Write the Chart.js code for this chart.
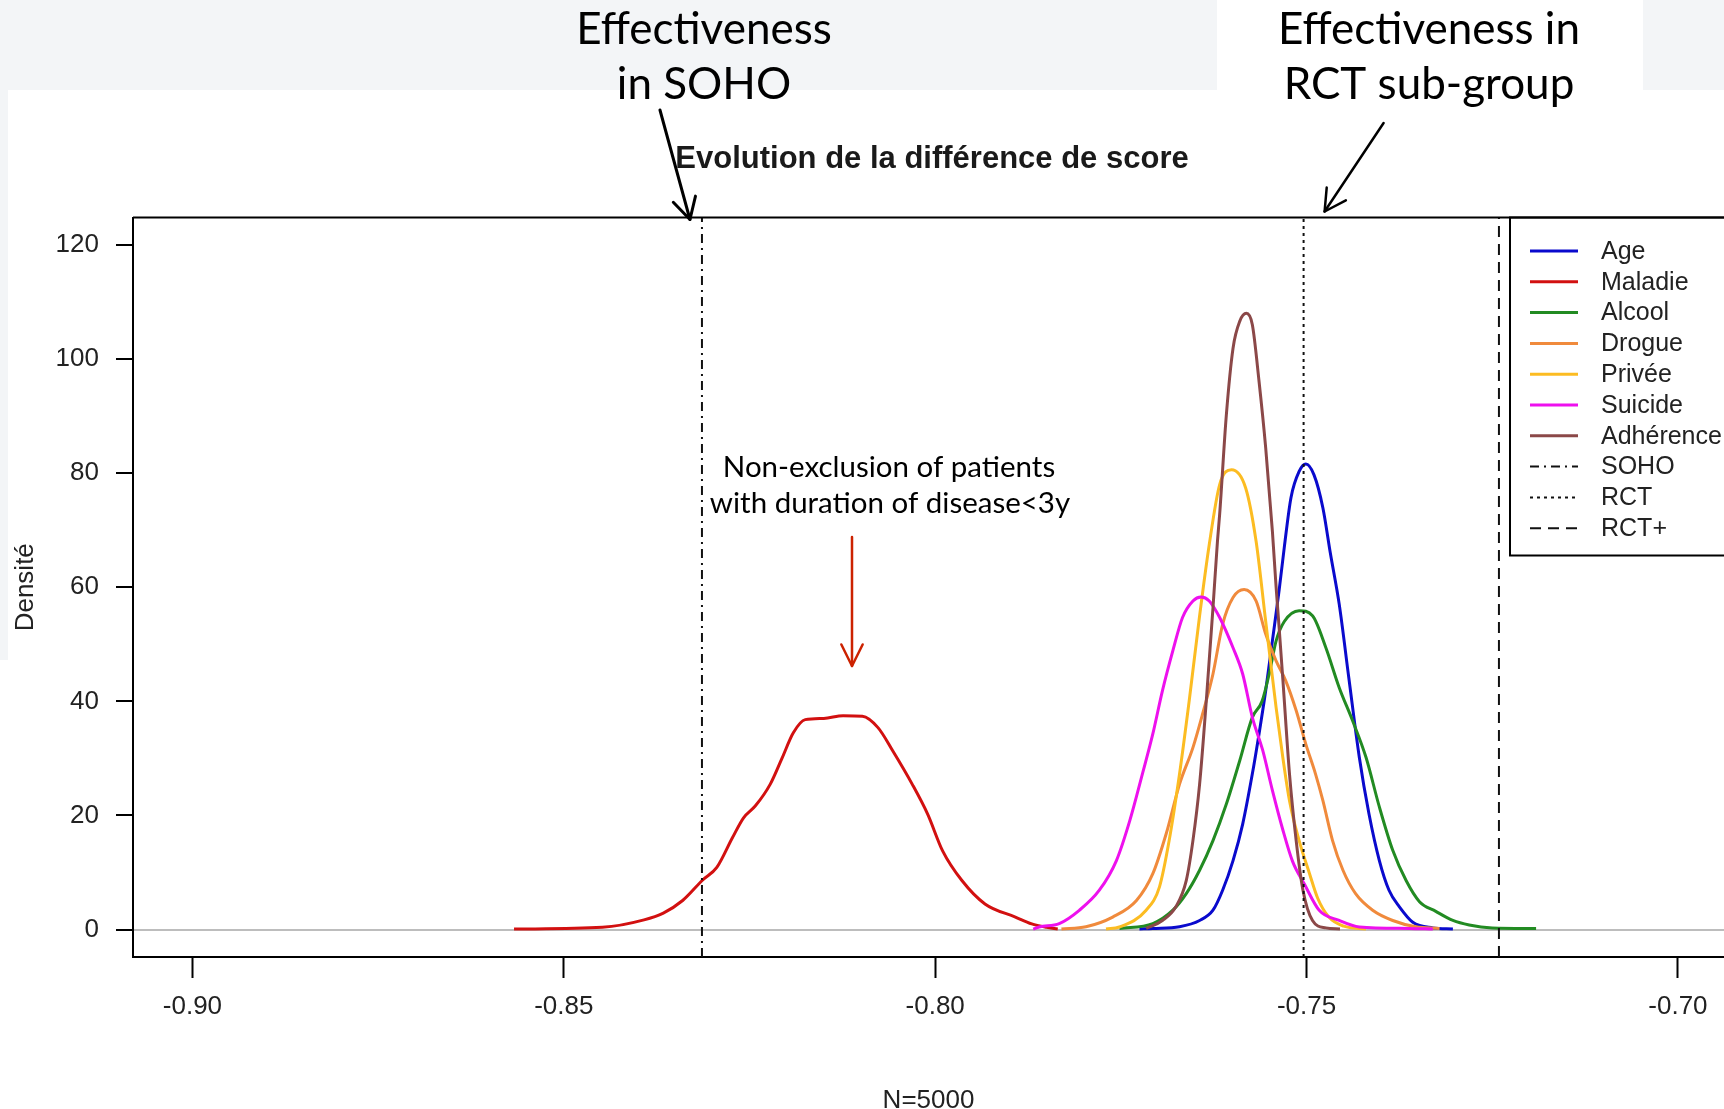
<!DOCTYPE html>
<html>
<head>
<meta charset="utf-8">
<title>Evolution de la différence de score</title>
<script src="https://cdn.jsdelivr.net/npm/chart.js@4.4.1/dist/chart.umd.min.js"></script>
<style>
  html, body { margin: 0; padding: 0; background: #fff; overflow: hidden; }
  canvas { display: block; }
</style>
</head>
<body>
<canvas id="densityChart" width="1724" height="1109"></canvas>
<script>
// density curves (x = score difference, y = density)
const ageX = [-0.7725, -0.7707, -0.7671, -0.7644, -0.7626, -0.7613, -0.7599, -0.7586, -0.7573, -0.7564, -0.7555, -0.7546, -0.7537, -0.7530, -0.7521, -0.7510, -0.7501, -0.7490, -0.7478, -0.7468, -0.7456, -0.7443, -0.7429, -0.7416, -0.7402, -0.7389, -0.7375, -0.7357, -0.7330, -0.7303];
const ageY = [0.1, 0.2, 0.5, 1.6, 3.4, 6.9, 12.1, 18.5, 27.3, 34.3, 41.9, 50.6, 59.4, 67, 75.7, 80.3, 81.6, 79.7, 73.9, 66, 57, 44, 30.2, 20.3, 12.1, 6.9, 4.0, 1.3, 0.3, 0.1];

const maladieX = [-0.8567, -0.8448, -0.8392, -0.8366, -0.8340, -0.8313, -0.8294, -0.8273, -0.8258, -0.8242, -0.8222, -0.8206, -0.8191, -0.8175, -0.8150, -0.8124, -0.8098, -0.8077, -0.8057, -0.8031, -0.8010, -0.7990, -0.7964, -0.7933, -0.7892, -0.7870, -0.7850, -0.7835];
const maladieY = [0.1, 0.4, 1.7, 2.9, 5.1, 8.7, 10.9, 16.1, 19.6, 21.7, 25.5, 30.1, 34.5, 36.8, 37.0, 37.5, 37.4, 35.4, 31.3, 25.5, 20.2, 13.8, 8.6, 4.5, 2.2, 1.0, 0.4, 0.1];

const alcoolX = [-0.7752, -0.7707, -0.7680, -0.7662, -0.7644, -0.7626, -0.7608, -0.7590, -0.7573, -0.7560, -0.7550, -0.7541, -0.7530, -0.7510, -0.7492, -0.7474, -0.7456, -0.7438, -0.7420, -0.7402, -0.7384, -0.7366, -0.7348, -0.7326, -0.7303, -0.7281, -0.7250, -0.7191];
const alcoolY = [0.2, 1.05, 3.4, 6.3, 10.4, 15.6, 22.0, 29.6, 37.2, 40, 45, 50.6, 54, 55.9, 55, 49.4, 42.4, 36.6, 30.2, 21.5, 13.9, 8.6, 4.9, 3.2, 1.6, 0.8, 0.3, 0.2];

const drogueX = [-0.7830, -0.7797, -0.7761, -0.7729, -0.7707, -0.7689, -0.7671, -0.7653, -0.7640, -0.7626, -0.7613, -0.7599, -0.7584, -0.7568, -0.7555, -0.7541, -0.7528, -0.7514, -0.7501, -0.7488, -0.7478, -0.7465, -0.7451, -0.7434, -0.7411, -0.7384, -0.7353, -0.7321];
const drogueY = [0.1, 0.5, 2.2, 5.1, 9.8, 16.8, 25.5, 31.9, 37.8, 44.8, 53.5, 58.2, 59.6, 57.6, 51.8, 47.1, 43.6, 38.4, 32.5, 27.3, 22.6, 15.6, 10.4, 6.3, 3.4, 1.6, 0.5, 0.2];

const priveeX = [-0.7770, -0.7752, -0.7716, -0.7698, -0.7685, -0.7671, -0.7658, -0.7644, -0.7631, -0.7617, -0.7601, -0.7582, -0.7568, -0.7555, -0.7541, -0.7532, -0.7523, -0.7510, -0.7496, -0.7485, -0.7470, -0.7450, -0.7420];
const priveeY = [0.1, 0.46, 3.4, 7.5, 15.6, 27.3, 40.1, 55, 67.5, 78.0, 80.6, 77.4, 68.1, 54, 38.9, 30.2, 22.6, 15.6, 9.8, 5.5, 2.2, 0.6, 0.1];

const suicideX = [-0.7868, -0.7860, -0.7833, -0.7806, -0.7779, -0.7756, -0.7738, -0.7721, -0.7707, -0.7694, -0.7680, -0.7667, -0.7653, -0.7642, -0.7631, -0.7617, -0.7599, -0.7586, -0.7573, -0.7559, -0.7546, -0.7532, -0.7519, -0.7503, -0.7483, -0.7456, -0.7429, -0.7362, -0.7330];
const suicideY = [0.1, 0.46, 1.05, 3.38, 6.9, 12.1, 19.1, 27.3, 34.3, 41.9, 48.9, 54.7, 57.6, 58.3, 57.6, 54.7, 49.4, 44.8, 37.2, 31.4, 24.4, 17.5, 12, 8, 3.4, 1.6, 0.46, 0.2, 0.1];

const adherenceX = [-0.7716, -0.7694, -0.7676, -0.7662, -0.7653, -0.7644, -0.7635, -0.7626, -0.7620, -0.7617, -0.7608, -0.7599, -0.7590, -0.7581, -0.7573, -0.7564, -0.7555, -0.7546, -0.7541, -0.7537, -0.7532, -0.7523, -0.7514, -0.7505, -0.7492, -0.7474, -0.7455];
const adherenceY = [0.2, 1.6, 4.0, 8.6, 15.6, 25.5, 40.1, 56.4, 68, 72.8, 90.2, 101.9, 106.6, 108.0, 106.0, 96.1, 84.4, 69.8, 60, 53, 44, 27.3, 15.6, 7, 1.6, 0.3, 0.1];

const seriesNames = ['Age', 'Maladie', 'Alcool', 'Drogue', 'Privée', 'Suicide', 'Adhérence'];
const seriesColors = ['#0a0acd', '#d21010', '#228b22', '#f08a3c', '#fcbc22', '#ee10ee', '#8b4848'];

// reference lines
const refNames = ['SOHO', 'RCT', 'RCT+'];
const refValues = [-0.8314, -0.7504, -0.7241];
const refDashes = [[9, 5, 2, 5], [3, 4], [11, 7]];

const xTicks = [-0.90, -0.85, -0.80, -0.75, -0.70];
const yTicks = [0, 20, 40, 60, 80, 100, 120];
const xRange = [-0.908, -0.6938];
const yRange = [-4.8, 124.8];

function toPoints(xs, ys) {
    return xs.map(function(x, i) { return { x: x, y: ys[i] }; });
}

var seriesX = [ageX, maladieX, alcoolX, drogueX, priveeX, suicideX, adherenceX];
var seriesY = [ageY, maladieY, alcoolY, drogueY, priveeY, suicideY, adherenceY];

var datasets = seriesNames.map(function(name, i) {
    return {
        label: name,
        data: toPoints(seriesX[i], seriesY[i]),
        borderColor: seriesColors[i],
        borderWidth: 3,
        cubicInterpolationMode: 'monotone',
        pointRadius: 0,
        order: 20 - i
    };
});

refNames.forEach(function(name, i) {
    datasets.push({
        label: name,
        data: [{ x: refValues[i], y: yRange[0] }, { x: refValues[i], y: yRange[1] }],
        borderColor: '#111',
        borderWidth: 2,
        borderDash: refDashes[i],
        pointRadius: 0,
        tension: 0,
        order: 3 - i
    });
});

function arrow(c, x1, y1, x2, y2, color, w, len, ang) {
    var a = Math.atan2(y2 - y1, x2 - x1);
    c.strokeStyle = color;
    c.lineWidth = w;
    c.lineCap = 'round';
    c.lineJoin = 'round';
    c.setLineDash([]);
    c.beginPath();
    c.moveTo(x1, y1);
    c.lineTo(x2, y2);
    c.stroke();
    c.beginPath();
    c.moveTo(x2 - len * Math.cos(a - ang), y2 - len * Math.sin(a - ang));
    c.lineTo(x2, y2);
    c.lineTo(x2 - len * Math.cos(a + ang), y2 - len * Math.sin(a + ang));
    c.stroke();
}

var decor = {
    id: 'decor',
    beforeDraw: function(chart) {
        var c = chart.ctx;
        c.save();
        c.fillStyle = '#fff';
        c.fillRect(0, 0, chart.width, chart.height);
        c.fillStyle = '#f3f5f7';
        c.fillRect(0, 0, chart.width, 90);
        c.fillRect(0, 90, 8, 570);
        c.fillStyle = '#fff';
        c.fillRect(1217, 0, 426, 90);
        c.restore();
    },
    afterDraw: function(chart) {
        var c = chart.ctx;
        var area = chart.chartArea;
        var xs = chart.scales.x;
        c.save();

        // top of the box
        c.strokeStyle = '#000';
        c.lineWidth = 2;
        c.beginPath();
        c.moveTo(area.left, area.top);
        c.lineTo(area.right, area.top);
        c.stroke();

        // title
        c.fillStyle = '#1a1a1a';
        c.font = 'bold 31px "Liberation Sans", Arial, sans-serif';
        c.textAlign = 'center';
        c.textBaseline = 'middle';
        c.fillText('Evolution de la différence de score', 932, 159);

        // legend
        var lx = 1510, ly = area.top, rowH = 30.8;
        c.lineWidth = 2;
        c.strokeStyle = '#000';
        c.strokeRect(lx, ly, 300, 338);
        c.font = '25px "Liberation Sans", Arial, sans-serif';
        c.textAlign = 'left';
        chart.data.datasets.forEach(function(ds, i) {
            var y = ly + 33.5 + i * rowH;
            c.strokeStyle = ds.borderColor;
            c.lineWidth = ds.borderDash ? 2 : 3;
            c.setLineDash(ds.borderDash || []);
            c.beginPath();
            c.moveTo(lx + 20, y);
            c.lineTo(lx + 68, y);
            c.stroke();
            c.setLineDash([]);
            c.fillStyle = '#222';
            c.fillText(ds.label, lx + 91, y + 1);
        });

        // annotations
        c.fillStyle = '#000';
        c.textAlign = 'center';
        c.font = '44px Lato, "Open Sans", sans-serif';
        c.fillText('Effectiveness', 704, 30);
        c.fillText('in SOHO', 704, 85);
        c.fillText('Effectiveness in', 1429, 30);
        c.fillText('RCT sub-group', 1429, 85);
        c.font = '29.5px Lato, "Open Sans", sans-serif';
        c.fillText('Non-exclusion of patients', 889, 467);
        c.fillText('with duration of disease<3y', 890, 503);

        var sohoPx = xs.getPixelForValue(refValues[0]);
        var rctPx = xs.getPixelForValue(refValues[1]);
        arrow(c, sohoPx - 42, 110, sohoPx - 12, area.top + 2, '#000', 3, 24, 0.5);
        arrow(c, rctPx + 80, 123, rctPx + 21, area.top - 6, '#000', 2.5, 24, 0.5);
        arrow(c, 852, 537, 852, 666, '#cc2200', 2.5, 24, 0.46);

        c.restore();
    }
};

var ctx = document.getElementById('densityChart').getContext('2d');
var densityChart = new Chart(ctx, {
    type: 'line',
    data: { datasets: datasets },
    options: {
        responsive: false,
        animation: false,
        layout: { padding: { left: 0, right: 0, top: 217.5, bottom: 0 } },
        plugins: {
            legend: { display: false },
            tooltip: { enabled: false },
            title: { display: false }
        },
        scales: {
            x: {
                type: 'linear',
                min: xRange[0],
                max: xRange[1],
                afterBuildTicks: function(scale) {
                    scale.ticks = xTicks.map(function(v) { return { value: v }; });
                },
                afterFit: function(scale) { scale.height = 152; },
                grid: { drawOnChartArea: false, tickLength: 21, tickColor: '#000', tickWidth: 2 },
                border: { display: true, color: '#000', width: 2 },
                ticks: {
                    padding: 13,
                    color: '#222',
                    font: { family: '"Liberation Sans", Arial, sans-serif', size: 26 },
                    callback: function(v) { return v.toFixed(2); }
                },
                title: {
                    display: true,
                    text: 'N=5000',
                    color: '#222',
                    padding: { top: 0, bottom: 0 },
                    font: { family: '"Liberation Sans", Arial, sans-serif', size: 26, lineHeight: 0.66 }
                }
            },
            y: {
                type: 'linear',
                min: yRange[0],
                max: yRange[1],
                afterBuildTicks: function(scale) {
                    scale.ticks = yTicks.map(function(v) { return { value: v }; });
                },
                afterFit: function(scale) { scale.width = 133; },
                grid: {
                    color: function(c) { return c.tick && c.tick.value === 0 ? '#bdbdbd' : 'rgba(0,0,0,0)'; },
                    lineWidth: 2,
                    tickLength: 17,
                    tickColor: '#000',
                    tickWidth: 2
                },
                border: { display: true, color: '#000', width: 2 },
                ticks: {
                    padding: 17,
                    color: '#222',
                    font: { family: '"Liberation Sans", Arial, sans-serif', size: 26 }
                },
                title: {
                    display: true,
                    text: 'Densité',
                    color: '#222',
                    padding: { top: 10, bottom: 0 },
                    font: { family: '"Liberation Sans", Arial, sans-serif', size: 26 }
                }
            }
        }
    },
    plugins: [decor]
});
</script>
</body>
</html>
